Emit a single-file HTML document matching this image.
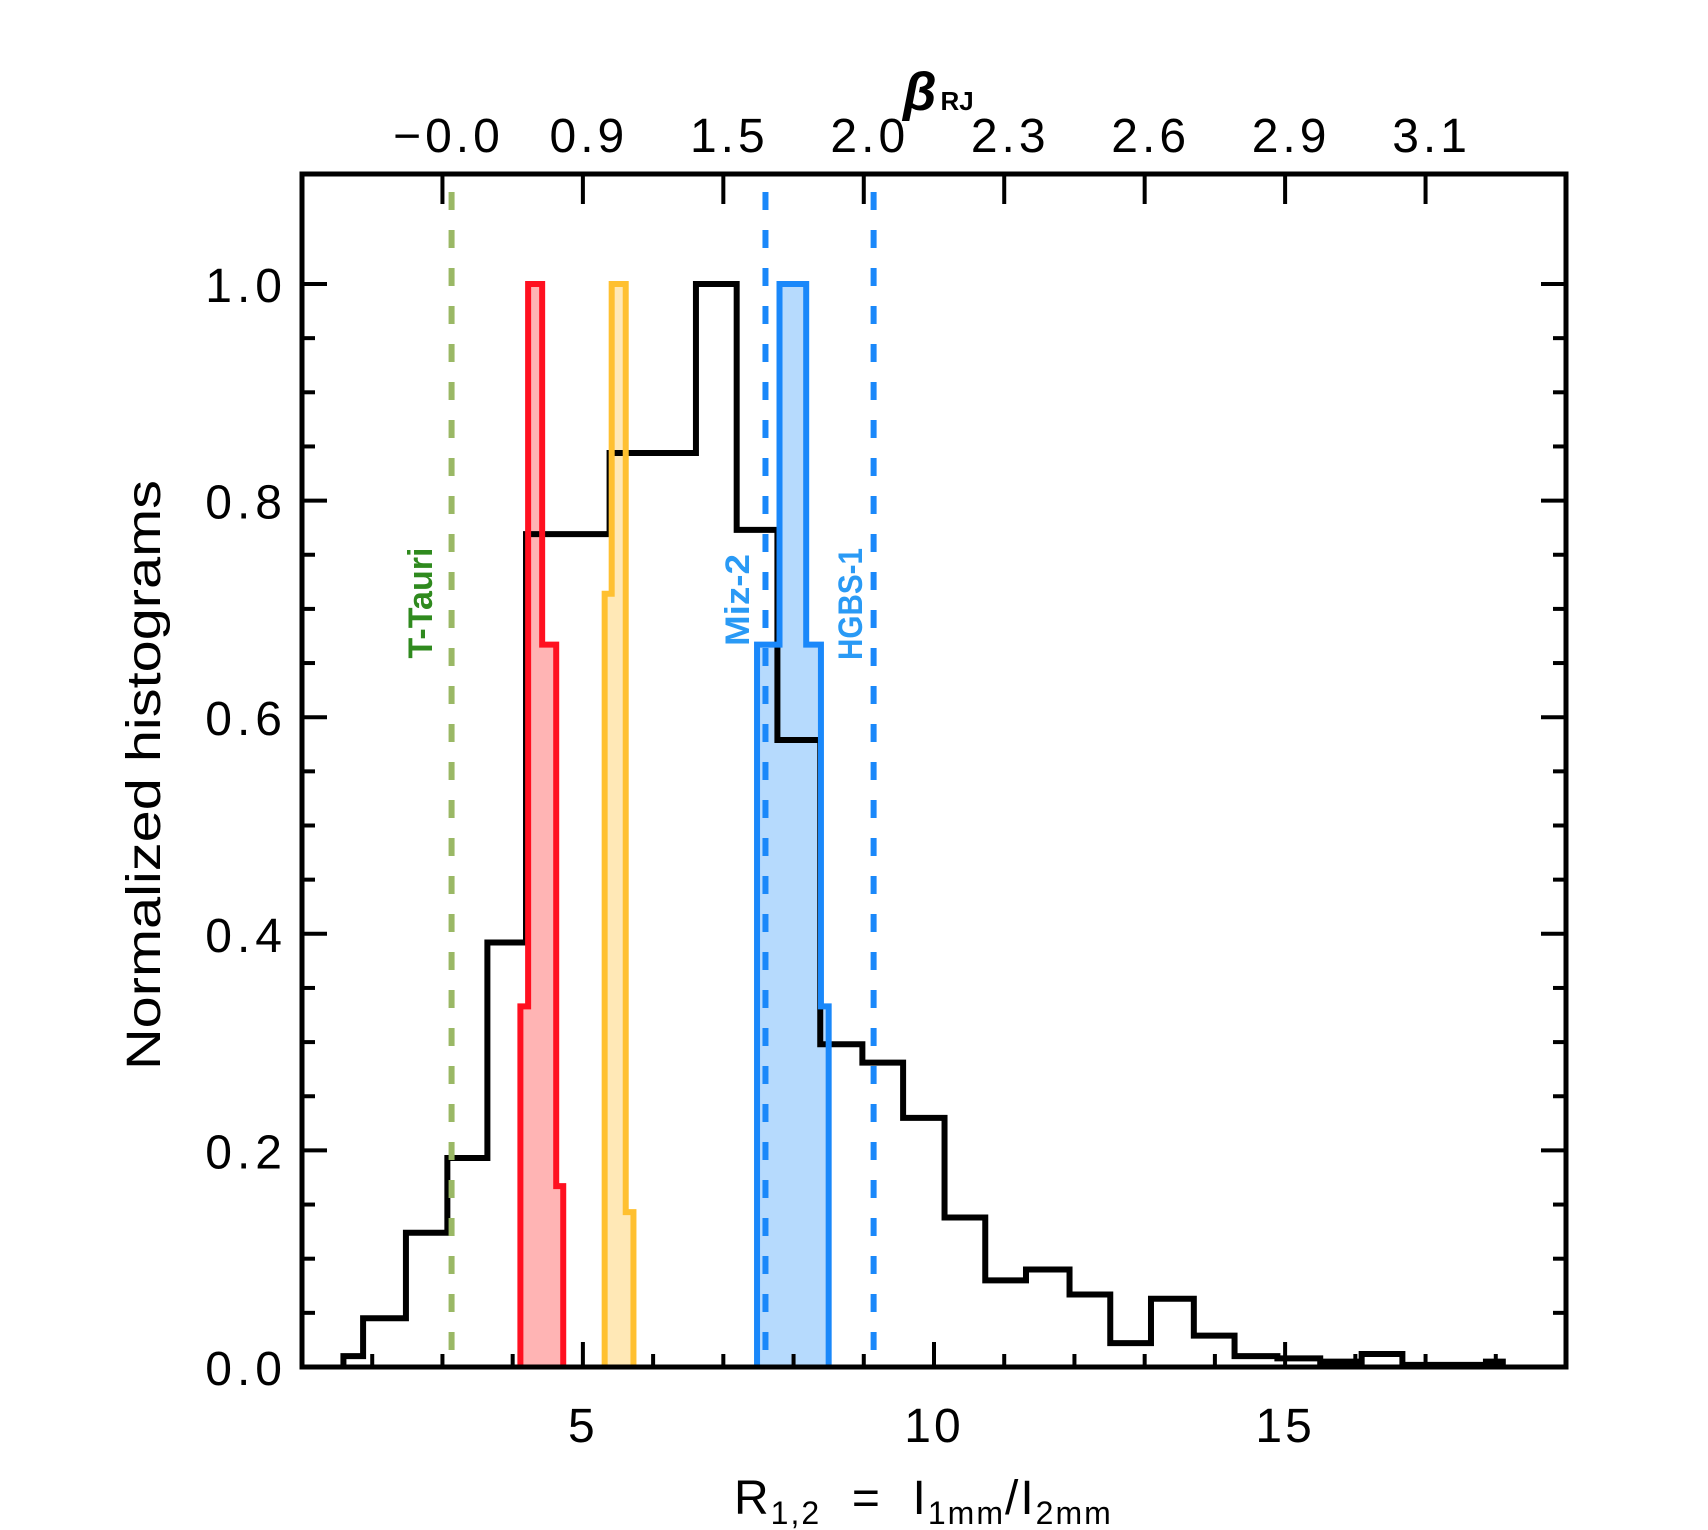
<!DOCTYPE html>
<html><head><meta charset="utf-8"><style>
html,body{margin:0;padding:0;background:#fff;}
svg{display:block;}
text{font-family:"Liberation Sans",sans-serif;}
</style></head><body>
<svg id="chart" width="1708" height="1530" viewBox="0 0 1708 1530" xmlns="http://www.w3.org/2000/svg"></svg>
<script>
// ---- data ----
const blackEdges = [1.59,1.87,2.48,3.07,3.64,4.19,4.78,5.38,6.0,6.61,7.19,7.77,8.38,8.98,9.56,10.15,10.73,11.31,11.93,12.51,13.09,13.70,14.28,14.89,15.50,16.09,16.67,17.28,17.86,18.1];
const blackValues = [0.01,0.045,0.124,0.193,0.392,0.769,0.769,0.844,0.844,1.0,0.773,0.579,0.298,0.281,0.23,0.138,0.08,0.09,0.067,0.022,0.063,0.029,0.01,0.008,0.005,0.012,0.002,0.002,0.005];
const redEdges = [4.11,4.22,4.42,4.62,4.72];
const redValues = [0.333,1.0,0.667,0.167];
const yellowEdges = [5.31,5.41,5.61,5.72];
const yellowValues = [0.714,1.0,0.143];
const blueEdges = [7.48,7.80,8.18,8.39,8.50];
const blueValues = [0.667,1.0,0.667,0.333];
const refLinesX = [3.13,7.60,9.14];
const refLineNames = ['t-tauri-line','miz-2-line','hgbs-1-line'];
const xMajorTicks = [5,10,15];
const xMinorTicks = [1,2,3,4,6,7,8,9,11,12,13,14,16,17,18,19];
const yMajorTicks = [0,0.2,0.4,0.6,0.8,1.0];
const yTickLabels = ['0.0','0.2','0.4','0.6','0.8','1.0'];
const topTickPos = [3,5,7,9,11,13,15,17];
const topTickLabels = ['\u22120.0','0.9','1.5','2.0','2.3','2.6','2.9','3.1'];

// ---- axes ----
const L=302,R=1566,T=174,B=1367,X0=1,X1=19,YT=1.0,Y1px=284;
function sx(v){return L+(v-X0)*(R-L)/(X1-X0);}
function sy(v){return B-(v)*(B-Y1px)/YT;}
const NS='http://www.w3.org/2000/svg';
const svg=document.getElementById('chart');
function mk(tag,attrs,parent){const e=document.createElementNS(NS,tag);for(const k in attrs)e.setAttribute(k,attrs[k]);(parent||svg).appendChild(e);return e;}
function stepPath(edges,vals,closed){
  let d='M'+sx(edges[0])+','+sy(0);
  for(let i=0;i<vals.length;i++){d+=' L'+sx(edges[i])+','+sy(vals[i])+' L'+sx(edges[i+1])+','+sy(vals[i]);}
  d+=' L'+sx(edges[edges.length-1])+','+sy(0);
  if(closed)d+=' Z';
  return d;
}
let f;
f=mk('path',{d:stepPath(redEdges,redValues,true),fill:'#ffb4b4',stroke:'none'});


f=mk('path',{d:stepPath(yellowEdges,yellowValues,true),fill:'#ffe8b6',stroke:'none'});


f=mk('path',{d:stepPath(blueEdges,blueValues,true),fill:'#b6dafd',stroke:'none'});


let bh=mk('path',{d:stepPath(blackEdges,blackValues,false),fill:'none',stroke:'#000','stroke-width':6});


let o;
o=mk('path',{d:stepPath(redEdges,redValues,false),fill:'none',stroke:'#ff1020','stroke-width':6});


o=mk('path',{d:stepPath(yellowEdges,yellowValues,false),fill:'none',stroke:'#ffc030','stroke-width':6});


o=mk('path',{d:stepPath(blueEdges,blueValues,false),fill:'none',stroke:'#1a88fa','stroke-width':6});


const refColors=['#9ab865','#1a88fa','#1a88fa'];
refLinesX.forEach((v,i)=>{
  const l=mk('line',{x1:sx(v),x2:sx(v),y1:T+18,y2:B,stroke:refColors[i],'stroke-width':6,'stroke-dasharray':'18 20'});
  
  
});
function vlabel(txt,x,y,color,name,len){
  const t=mk('text',{x:0,y:0,transform:'translate('+x+','+y+') rotate(-90)','text-anchor':'middle','font-size':34,'font-weight':'bold',fill:color,textLength:len,lengthAdjust:'spacingAndGlyphs'});
  t.textContent=txt;
  
  
  return t;
}
vlabel('T-Tauri',432,603,'#2f8a1e','t-tauri-label',111);
vlabel('Miz-2',749,600,'#2a9af5','miz-2-label',92);
vlabel('HGBS-1',862,604,'#2a9af5','hgbs-1-label',112);
let fr=mk('rect',{x:L,y:T,width:R-L,height:B-T,fill:'none',stroke:'#000','stroke-width':5});


xMajorTicks.forEach(v=>{
  const a=mk('line',{x1:sx(v),x2:sx(v),y1:B,y2:B-25,stroke:'#000','stroke-width':4});
  
  
  const lb=mk('text',{x:sx(v),y:B+75,'text-anchor':'middle','font-size':48,'letter-spacing':3,fill:'#000'});
  lb.textContent=String(v);
  
  
});
xMinorTicks.forEach(v=>{
  const a=mk('line',{x1:sx(v),x2:sx(v),y1:B,y2:B-13,stroke:'#000','stroke-width':4});
  
  
});
yMajorTicks.forEach((v,i)=>{
  [[L,L+25],[R,R-25]].forEach(p=>{
    const a=mk('line',{x1:p[0],x2:p[1],y1:sy(v),y2:sy(v),stroke:'#000','stroke-width':4});
    
    
  });
  const lb=mk('text',{x:287,y:sy(v)+18,'text-anchor':'end','font-size':48,'letter-spacing':5,fill:'#000'});
  lb.textContent=yTickLabels[i];
  
  
});
for(let k=1;k<21;k++){
  if(k%4===0)continue;
  const v=k*0.05;
  [[L,L+13],[R,R-13]].forEach(p=>{
    const a=mk('line',{x1:p[0],x2:p[1],y1:sy(v),y2:sy(v),stroke:'#000','stroke-width':4});
    
    
  });
}
topTickPos.forEach((v,i)=>{
  const a=mk('line',{x1:sx(v),x2:sx(v),y1:T,y2:T+30,stroke:'#000','stroke-width':4});
  
  
  const lb=mk('text',{x:sx(v)+6,y:152,'text-anchor':'middle','font-size':48,'letter-spacing':4,fill:'#000'});
  lb.textContent=topTickLabels[i];
  
  
});
</script>
<svg style="position:absolute;left:0;top:0" width="1708" height="1530">
  <text x="903" y="110" font-family="Liberation Serif, serif" font-style="italic" font-weight="bold" font-size="54">β<tspan font-family="Liberation Sans, sans-serif" font-style="normal" font-size="26" dx="4">RJ</tspan></text>
  <text transform="translate(160,775) rotate(-90)" text-anchor="middle" font-family="Liberation Sans, sans-serif" font-size="48" textLength="590" lengthAdjust="spacingAndGlyphs">Normalized histograms</text>
  <text x="734" y="1514" font-family="Liberation Sans, sans-serif" font-size="48" letter-spacing="2">R<tspan font-size="32" dy="10">1,2</tspan><tspan dy="-10"> &#160;=&#160; I</tspan><tspan font-size="32" dy="10">1mm</tspan><tspan dy="-10">/I</tspan><tspan font-size="32" dy="10">2mm</tspan></text>
</svg>
</body></html>
